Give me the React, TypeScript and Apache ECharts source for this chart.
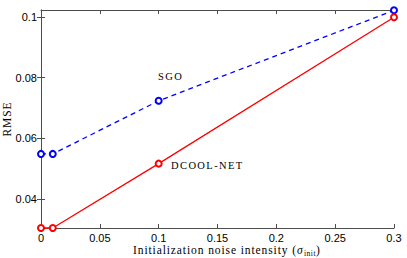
import React, { useEffect, useRef } from "react";
import * as echarts from "echarts";

const xValues = [0, 0.01, 0.1, 0.3];
const sgoValues = [0.0549, 0.0549, 0.0724, 0.1022];
const dcoolValues = [0.0305, 0.0305, 0.0517, 0.0999];
const yTicks = [0.04, 0.06, 0.08, 0.1];
const xTitleMain = "Initialization noise intensity (";
const xTitleSym = "σ";
const xTitleSub = "init";
const xTitleEnd = ")";

const fmt = (v: number) => String(parseFloat(v.toFixed(4)));

export default function App() {
  const ref = useRef<HTMLDivElement>(null);
  useEffect(() => {
    const chart = echarts.init(ref.current!, null, { renderer: "svg" });
    const axisColor = "#4d4d4d";
    const tickFont = { fontFamily: "Liberation Sans", fontSize: 11, color: "#000" };
    const serif = "Liberation Serif";

    const ctx = document.createElement("canvas").getContext("2d")!;
    const measure = (t: string, font: string, ls: number) => {
      ctx.font = font;
      return ctx.measureText(t).width + t.length * ls;
    };
    const fMain = `11.5px ${serif}`;
    const fIt = `italic 11.5px ${serif}`;
    const fSub = `7.5px ${serif}`;
    const lsMain = 0.9;
    const lsSub = 0.5;
    const x0 = 133;
    const yMid = 250;
    const x1 = x0 + measure(xTitleMain, fMain, lsMain);
    const x2 = x1 + measure(xTitleSym, fIt, lsMain) + 0.5;
    const x3 = x2 + measure(xTitleSub, fSub, lsSub);

    const txt = (text: string, x: number, y: number, font: string) => ({
      type: "text",
      x,
      y,
      style: { text, font, fill: "#000", textAlign: "left", textVerticalAlign: "middle" },
    });

    chart.setOption({
      animation: false,
      backgroundColor: "#fff",
      grid: { left: 41, top: 10, right: 13, bottom: 30, containLabel: false, outerBoundsMode: "none" },
      xAxis: [
        {
          type: "value",
          min: 0,
          max: 0.3,
          interval: 0.05,
          splitLine: { show: false },
          axisLine: { lineStyle: { color: axisColor, width: 1 } },
          axisTick: { inside: true, length: 4, lineStyle: { color: axisColor } },
          axisLabel: { ...tickFont, margin: 4, formatter: (v: number) => fmt(v) },
        },
        {
          type: "value",
          position: "top",
          min: 0,
          max: 0.3,
          interval: 0.05,
          splitLine: { show: false },
          axisLine: { lineStyle: { color: axisColor, width: 1 } },
          axisTick: { inside: true, length: 4, lineStyle: { color: axisColor } },
          axisLabel: { show: false },
        },
      ],
      yAxis: [
        {
          type: "value",
          min: 0.0305,
          max: 0.1023,
          splitLine: { show: false },
          axisLine: { show: true, lineStyle: { color: axisColor, width: 1 } },
          axisTick: { show: true, inside: true, length: 4, customValues: yTicks, lineStyle: { color: axisColor } },
          axisLabel: { ...tickFont, margin: 4, customValues: yTicks, formatter: (v: number) => fmt(v) },
          name: "RMSE",
          nameLocation: "middle",
          nameGap: 28,
          nameRotate: 90,
          nameMoveOverlap: false,
          nameTextStyle: { fontFamily: serif, fontSize: 11.5, color: "#000" },
        },
        {
          type: "value",
          position: "right",
          min: 0.0305,
          max: 0.1023,
          splitLine: { show: false },
          axisLine: { show: true, lineStyle: { color: axisColor, width: 1 } },
          axisTick: { show: true, inside: true, length: 4, customValues: yTicks, lineStyle: { color: axisColor } },
          axisLabel: { show: false },
        },
      ],
      series: [
        {
          name: "SGO",
          type: "line",
          data: xValues.map((x, i) => [x, sgoValues[i]]),
          symbol: "emptyCircle",
          symbolSize: 6,
          lineStyle: { color: "#0000ff", width: 1.3, type: [5, 4] },
          itemStyle: { color: "#0000ff", borderWidth: 1.2 },
          clip: false,
        },
        {
          name: "DCOOL-NET",
          type: "line",
          data: xValues.map((x, i) => [x, dcoolValues[i]]),
          symbol: "emptyCircle",
          symbolSize: 6,
          lineStyle: { color: "#ff0000", width: 1.3 },
          itemStyle: { color: "#ff0000", borderWidth: 1.2 },
          clip: false,
        },
      ],
      graphic: [
        txt("SGO", 158, 76, "10.5px Liberation Serif"),
        txt("DCOOL-NET", 171, 165, "10.5px Liberation Serif"),
        txt(xTitleMain, x0, yMid, fMain),
        txt(xTitleSym, x1, yMid, fIt),
        txt(xTitleSub, x2, yMid + 3, fSub),
        txt(xTitleEnd, x3, yMid, fMain),
      ],
    });
    return () => chart.dispose();
  }, []);
  return (
    <>
      <style>{`
        #chartbox text[style*="10.5px"] { letter-spacing: 1.4px; }
        #chartbox text[style*="11.5px"] { letter-spacing: 0.9px; }
        #chartbox text[style*="7.5px"] { letter-spacing: 0.5px; }
      `}</style>
      <div id="chartbox" ref={ref} style={{ width: 407, height: 258, position: "absolute", left: 0, top: 0 }} />
    </>
  );
}
